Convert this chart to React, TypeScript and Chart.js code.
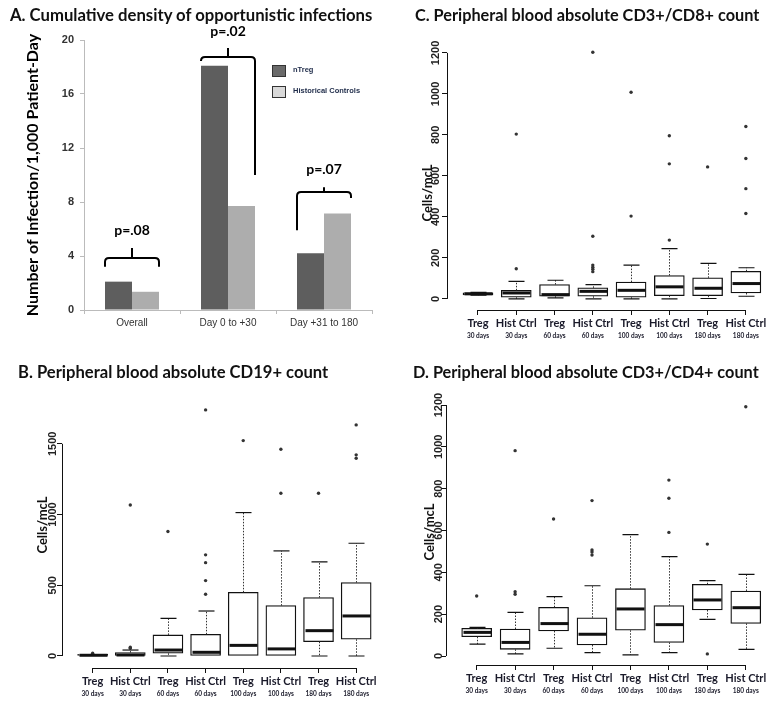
import React, { useEffect, useRef } from 'react';
import { Chart, registerables } from 'chart.js';

Chart.register(...registerables);

const W = 771;
const H = 703;
const TITLE_FONT = 'Lato, "Open Sans", sans-serif';
const ARIAL = '"Liberation Sans", Arial, sans-serif';

// ---------- Panel A data ----------
const infCategories = ['Overall', 'Day 0 to +30', 'Day +31 to 180'];
const nTregRate = [2.1, 18.1, 4.2];
const histCtrlRate = [1.35, 7.7, 7.15];
const infTicks = [0, 4, 8, 12, 16, 20];
const pLabels = ['p=.08', 'p=.02', 'p=.07'];
const bracketTopY = [3.85, 18.75, 8.75];
const bracketLeftY = [3.2, 18.5, 5.9];
const bracketRightY = [3.2, 10.0, 8.3];
const bracketTickY = [4.6, 19.4, 9.1];
const pLabelY = [5.9, 20.6, 10.4];

// ---------- Box panels shared ----------
const groupLabels = ['Treg', 'Hist Ctrl', 'Treg', 'Hist Ctrl', 'Treg', 'Hist Ctrl', 'Treg', 'Hist Ctrl'];
const dayLabels = ['30 days', '30 days', '60 days', '60 days', '100 days', '100 days', '180 days', '180 days'];
const boxPositions = [0, 1, 2, 3, 4, 5, 6, 7];
const ticks1200 = [0, 200, 400, 600, 800, 1000, 1200];
const ticks1500 = [0, 500, 1000, 1500];

// ---------- Panel B: CD19+ ----------
const cd19Low = [0, 0, 0, 0, 0, 0, 0, 0];
const cd19Q1 = [0, 0, 19, 0, 0, 0, 101, 118];
const cd19Med = [5, 7, 42, 26, 75, 50, 179, 283];
const cd19Q3 = [12, 24, 149, 153, 450, 356, 413, 519];
const cd19High = [12, 42, 266, 318, 1014, 743, 665, 797];
const cd19Out = [[19], [55, 62, 1068], [880], [436, 533, 660, 715, 1740], [1523], [1151, 1462], [1151], [1398, 1422, 1634]];

// ---------- Panel C: CD3+/CD8+ ----------
const cd8Low = [18, 0, 5, 0, 0, 0, 2, 13];
const cd8Q1 = [20, 8, 13, 13, 8, 16, 16, 29];
const cd8Med = [25, 29, 21, 37, 42, 59, 52, 75];
const cd8Q3 = [30, 42, 70, 54, 82, 114, 103, 135];
const cd8High = [32, 86, 91, 70, 165, 245, 173, 152];
const cd8Out = [[], [147, 804], [], [133, 145, 155, 165, 306, 1203], [404, 1008], [287, 659, 796], [644], [417, 538, 685, 841]];

// ---------- Panel D: CD3+/CD4+ ----------
const cd4Low = [57, 10, 37, 16, 5, 16, 175, 32];
const cd4Q1 = [92, 32, 120, 53, 123, 65, 220, 156];
const cd4Med = [113, 65, 155, 104, 225, 150, 268, 231];
const cd4Q3 = [132, 129, 233, 183, 322, 241, 343, 311];
const cd4High = [137, 209, 284, 336, 580, 475, 360, 390];
const cd4Out = [[287], [295, 307, 982], [655], [483, 497, 507, 743], [], [591, 754, 841], [10, 535], [1192]];

type BoxSpec = {
  key: string;
  low: number[]; q1: number[]; med: number[]; q3: number[]; high: number[]; out: number[][];
  yTicks: number[];
  area: { left: number; right: number; top: number; bottom: number };
  xMin: number; xMax: number; yMin: number; yMax: number;
  tickLabelX: number;
  yTitleX: number; yTitleY: number;
};

const BOX_W = 30;

function boxConfig(p: BoxSpec): any {
  const boxData = p.q1.map((q, i) => ({ x: boxPositions[i], y: [q, p.q3[i]] }));
  const outData = p.out.flatMap((arr, i) => arr.map((v) => ({ x: boxPositions[i], y: v })));
  const xH = 22;
  const x2H = 12;
  const yW = 10;
  const setTicks = (vals: number[]) => (s: any) => {
    s.ticks = vals.map((v) => ({ value: v }));
  };
  const plugin = {
    id: 'boxExtras' + p.key,
    afterDatasetsDraw(chart: any) {
      const { ctx } = chart;
      const x = chart.scales.x;
      const y = chart.scales.y;
      ctx.save();
      for (let i = 0; i < p.q1.length; i++) {
        const cx = Math.round(x.getPixelForValue(boxPositions[i])) + 0.5;
        const yq1 = y.getPixelForValue(p.q1[i]);
        const yq3 = y.getPixelForValue(p.q3[i]);
        const ylo = y.getPixelForValue(p.low[i]);
        const yhi = y.getPixelForValue(p.high[i]);
        const ymed = y.getPixelForValue(p.med[i]);
        ctx.strokeStyle = '#333';
        ctx.lineWidth = 1;
        ctx.setLineDash([1.5, 1.5]);
        ctx.beginPath();
        if (p.high[i] > p.q3[i]) { ctx.moveTo(cx, yq3); ctx.lineTo(cx, yhi); }
        if (p.low[i] < p.q1[i]) { ctx.moveTo(cx, yq1); ctx.lineTo(cx, ylo); }
        ctx.stroke();
        ctx.setLineDash([]);
        ctx.strokeStyle = '#111';
        ctx.lineWidth = 1.2;
        ctx.beginPath();
        if (p.high[i] > p.q3[i]) { ctx.moveTo(cx - 8, yhi); ctx.lineTo(cx + 8, yhi); }
        if (p.low[i] < p.q1[i]) { ctx.moveTo(cx - 8, ylo); ctx.lineTo(cx + 8, ylo); }
        ctx.stroke();
        ctx.lineWidth = 3;
        ctx.beginPath();
        ctx.moveTo(cx - BOX_W / 2 + 1, ymed);
        ctx.lineTo(cx + BOX_W / 2 - 1, ymed);
        ctx.stroke();
      }
      ctx.restore();
    },
    afterDraw(chart: any) {
      const { ctx, chartArea } = chart;
      const x = chart.scales.x;
      const y = chart.scales.y;
      ctx.save();
      ctx.strokeStyle = '#111';
      ctx.lineWidth = 1;
      ctx.beginPath();
      const by = Math.round(chartArea.bottom) + 0.5;
      ctx.moveTo(x.getPixelForValue(boxPositions[0]), by);
      ctx.lineTo(x.getPixelForValue(boxPositions[boxPositions.length - 1]), by);
      const lx = Math.round(chartArea.left) + 0.5;
      ctx.moveTo(lx, y.getPixelForValue(p.yTicks[0]));
      ctx.lineTo(lx, y.getPixelForValue(p.yTicks[p.yTicks.length - 1]));
      ctx.stroke();
      ctx.fillStyle = '#222';
      ctx.font = `bold 11px ${ARIAL}`;
      ctx.textAlign = 'center';
      ctx.textBaseline = 'middle';
      for (const v of p.yTicks) {
        const py = y.getPixelForValue(v);
        ctx.save();
        ctx.translate(p.tickLabelX, py);
        ctx.rotate(-Math.PI / 2);
        ctx.fillText(String(v), 0, 0);
        ctx.restore();
      }
      ctx.save();
      ctx.translate(p.yTitleX, p.yTitleY);
      ctx.rotate(-Math.PI / 2);
      ctx.fillStyle = '#111';
      ctx.font = `bold 13px ${TITLE_FONT}`;
      ctx.fillText('Cells/mcL', 0, 0);
      ctx.restore();
      ctx.restore();
    },
  };
  return {
    type: 'bar',
    data: {
      datasets: [
        {
          type: 'bar', data: boxData, xAxisID: 'x', yAxisID: 'y',
          backgroundColor: '#ffffff', borderColor: '#111111', borderWidth: 1.3,
          borderSkipped: false, barThickness: BOX_W, order: 2,
        },
        {
          type: 'scatter', data: outData, xAxisID: 'x', yAxisID: 'y',
          pointRadius: 1.7, pointBackgroundColor: '#333', pointBorderWidth: 0,
          backgroundColor: '#333', borderColor: '#333', order: 1,
        },
      ],
    },
    options: {
      responsive: false,
      animation: false,
      events: [],
      layout: {
        padding: {
          left: p.area.left - yW,
          top: p.area.top,
          right: W - p.area.right,
          bottom: H - p.area.bottom - xH - x2H,
        },
      },
      plugins: { legend: { display: false }, tooltip: { enabled: false }, title: { display: false } },
      scales: {
        x: {
          type: 'linear', position: 'bottom', min: p.xMin, max: p.xMax, offset: false,
          afterBuildTicks: setTicks(boxPositions),
          afterFit: (s: any) => { s.height = xH; },
          grid: { display: true, offset: false, drawOnChartArea: false, drawTicks: true, tickLength: 5, color: '#111' },
          border: { display: false },
          ticks: {
            autoSkip: false, maxRotation: 0, minRotation: 0, padding: 2, color: '#1a1a2a',
            font: { family: TITLE_FONT, size: 11, weight: 'bold' },
            callback: (v: number) => groupLabels[v] ?? '',
          },
        },
        x2: {
          type: 'linear', position: 'bottom', min: p.xMin, max: p.xMax, offset: false,
          afterBuildTicks: setTicks(boxPositions),
          afterFit: (s: any) => { s.height = x2H; },
          grid: { display: false, drawTicks: false, tickLength: 0 },
          border: { display: false },
          ticks: {
            autoSkip: false, maxRotation: 0, minRotation: 0, padding: 0, color: '#1a1a2a',
            font: { family: TITLE_FONT, size: 6.5, weight: 'bold' },
            callback: (v: number) => dayLabels[v] ?? '',
          },
        },
        y: {
          type: 'linear', position: 'left', min: p.yMin, max: p.yMax,
          afterBuildTicks: setTicks(p.yTicks),
          afterFit: (s: any) => { s.width = yW; },
          grid: { display: true, drawOnChartArea: false, drawTicks: true, tickLength: 5, color: '#111' },
          border: { display: false },
          ticks: { display: false },
        },
      },
    },
    plugins: [plugin],
  };
}

function infectionConfig(): any {
  const area = { left: 84, right: 372, top: 40, bottom: 310 };
  const plugin = {
    id: 'brackets',
    afterDatasetsDraw(chart: any) {
      const { ctx } = chart;
      const y = chart.scales.y;
      const m0 = chart.getDatasetMeta(0).data;
      const m1 = chart.getDatasetMeta(1).data;
      ctx.save();
      ctx.strokeStyle = '#000';
      ctx.lineWidth = 2;
      for (let i = 0; i < infCategories.length; i++) {
        const xl = m0[i].x - m0[i].width / 2;
        const xr = m1[i].x + m1[i].width / 2;
        const xc = (xl + xr) / 2;
        const yt = y.getPixelForValue(bracketTopY[i]);
        const r = 4;
        ctx.beginPath();
        ctx.moveTo(xl, y.getPixelForValue(bracketLeftY[i]));
        ctx.lineTo(xl, yt + r);
        ctx.quadraticCurveTo(xl, yt, xl + r, yt);
        ctx.lineTo(xr - r, yt);
        ctx.quadraticCurveTo(xr, yt, xr, yt + r);
        ctx.lineTo(xr, y.getPixelForValue(bracketRightY[i]));
        ctx.moveTo(xc, yt);
        ctx.lineTo(xc, y.getPixelForValue(bracketTickY[i]));
        ctx.stroke();
        ctx.fillStyle = '#000';
        ctx.font = `bold 14px ${TITLE_FONT}`;
        ctx.textAlign = 'center';
        ctx.textBaseline = 'middle';
        ctx.fillText(pLabels[i], xc, y.getPixelForValue(pLabelY[i]));
      }
      const swatch = ['#6a6a6a', '#d9d9d9'];
      chart.data.datasets.forEach((ds: any, k: number) => {
        const ly = 65 + k * 21;
        ctx.fillStyle = swatch[k];
        ctx.fillRect(272, ly, 13, 11);
        ctx.strokeStyle = '#333';
        ctx.lineWidth = 1;
        ctx.strokeRect(272.5, ly + 0.5, 13, 11);
        ctx.fillStyle = '#1d2a48';
        ctx.font = `bold 7.5px ${ARIAL}`;
        ctx.textAlign = 'left';
        ctx.textBaseline = 'middle';
        ctx.fillText(ds.label, 293, ly + 5);
      });
      ctx.restore();
    },
  };
  return {
    type: 'bar',
    data: {
      labels: infCategories,
      datasets: [
        { label: 'nTreg', data: nTregRate, backgroundColor: '#5e5e5e', categoryPercentage: 0.5625, barPercentage: 1 },
        { label: 'Historical Controls', data: histCtrlRate, backgroundColor: '#adadad', categoryPercentage: 0.5625, barPercentage: 1 },
      ],
    },
    options: {
      responsive: false,
      animation: false,
      events: [],
      layout: { padding: { left: 19, top: area.top, right: W - area.right, bottom: H - area.bottom - 25 } },
      plugins: { legend: { display: false }, tooltip: { enabled: false }, title: { display: false } },
      scales: {
        x: {
          afterFit: (s: any) => { s.height = 25; },
          grid: { display: true, drawOnChartArea: false, tickLength: 4, color: '#bbbbbb', offset: true },
          border: { color: '#bbbbbb' },
          ticks: { color: '#333', padding: 3, autoSkip: false, maxRotation: 0, font: { family: ARIAL, size: 10 } },
        },
        y: {
          min: 0, max: 20,
          afterBuildTicks: (s: any) => { s.ticks = infTicks.map((v) => ({ value: v })); },
          afterFit: (s: any) => { s.width = 65; },
          grid: { display: true, drawOnChartArea: false, tickLength: 4, color: '#bbbbbb' },
          border: { color: '#bbbbbb' },
          ticks: { color: '#333', padding: 6, font: { family: ARIAL, size: 11, weight: 'bold' } },
          title: {
            display: true, text: 'Number of Infection/1,000 Patient-Day', color: '#000',
            font: { family: TITLE_FONT, size: 16, weight: 'bold' }, padding: { top: 4, bottom: 0 },
          },
        },
      },
    },
    plugins: [plugin],
  };
}

const specB: BoxSpec = {
  key: 'B', low: cd19Low, q1: cd19Q1, med: cd19Med, q3: cd19Q3, high: cd19High, out: cd19Out,
  yTicks: ticks1500, area: { left: 62, right: 375, top: 400, bottom: 668 },
  xMin: -0.814, xMax: 7.5, yMin: -85, yMax: 1810, tickLabelX: 53, yTitleX: 43, yTitleY: 525,
};
const specC: BoxSpec = {
  key: 'C', low: cd8Low, q1: cd8Q1, med: cd8Med, q3: cd8Q3, high: cd8High, out: cd8Out,
  yTicks: ticks1200, area: { left: 447, right: 765, top: 40, bottom: 310 },
  xMin: -0.81, xMax: 7.5, yMin: -54, yMax: 1263, tickLabelX: 436, yTitleX: 428, yTitleY: 193,
};
const specD: BoxSpec = {
  key: 'D', low: cd4Low, q1: cd4Q1, med: cd4Med, q3: cd4Q3, high: cd4High, out: cd4Out,
  yTicks: ticks1200, area: { left: 446, right: 765, top: 395, bottom: 665 },
  xMin: -0.798, xMax: 7.5, yMin: -43, yMax: 1248, tickLabelX: 439, yTitleX: 430, yTitleY: 532,
};

function ChartLayer({ make }: { make: () => any }) {
  const ref = useRef<HTMLCanvasElement | null>(null);
  useEffect(() => {
    if (!ref.current) return;
    const chart = new Chart(ref.current, make());
    return () => chart.destroy();
  }, []);
  return (
    <canvas
      ref={ref}
      width={W}
      height={H}
      style={{ position: 'absolute', left: 0, top: 0, width: W, height: H }}
    />
  );
}

const titleStyle = (left: number, centerY: number, size: number): React.CSSProperties => ({
  position: 'absolute', left, top: centerY - 9, margin: 0, whiteSpace: 'nowrap',
  font: `bold ${size}px ${TITLE_FONT}`, lineHeight: '18px', color: '#111',
});

export default function App() {
  return (
    <div style={{ position: 'absolute', left: 0, top: 0, width: W, height: H, background: '#fff', overflow: 'hidden' }}>
      <ChartLayer make={infectionConfig} />
      <ChartLayer make={() => boxConfig(specB)} />
      <ChartLayer make={() => boxConfig(specC)} />
      <ChartLayer make={() => boxConfig(specD)} />
      <div style={titleStyle(10, 15, 16.7)}>A. Cumulative density of opportunistic infections</div>
      <div style={titleStyle(18, 372, 16.6)}>B. Peripheral blood absolute CD19+ count</div>
      <div style={titleStyle(415, 15, 16.3)}>C. Peripheral blood absolute CD3+/CD8+ count</div>
      <div style={titleStyle(413, 372, 16.3)}>D. Peripheral blood absolute CD3+/CD4+ count</div>
    </div>
  );
}
